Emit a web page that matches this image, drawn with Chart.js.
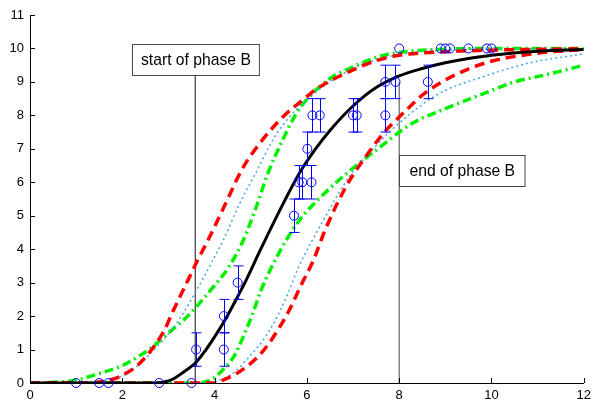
<!DOCTYPE html>
<html>
<head>
<meta charset="utf-8">
<script src="https://cdn.jsdelivr.net/npm/chart.js@4/dist/chart.umd.min.js"></script>
<style>
  body { margin: 0; background: #fff; }
</style>
</head>
<body>
<canvas id="phaseChart" width="596" height="402"></canvas>
<script>
// curves, [x, y]
const fitCurve = [[0,0],[2.6,0],[2.9,0.03],[3.1,0.12],[3.3,0.3],[3.6,0.62],[3.8,0.97],[4.0,1.38],[4.2,1.82],[4.45,2.45],[4.7,3.12],[5.0,4.0],[5.5,5.4],[5.85,6.3],[6.2,7.02],[6.5,7.55],[7.0,8.28],[7.5,8.83],[8.0,9.18],[8.5,9.4],[9.0,9.57],[9.5,9.7],[10.0,9.8],[11.0,9.92],[12.0,9.97]];
const redUpper = [[0,0],[1.2,0],[1.6,0.05],[2.0,0.23],[2.4,0.62],[2.9,1.55],[3.1,2.15],[3.45,3.15],[3.65,3.72],[3.85,4.25],[4.2,5.25],[4.6,6.4],[5.0,7.2],[5.5,7.98],[5.95,8.5],[6.2,8.78],[7.0,9.36],[7.56,9.66],[8.0,9.8],[9.0,9.9],[10.0,9.95],[12.0,9.99]];
const cyanUpper = [[0,0],[1.4,0],[1.8,0.1],[2.2,0.38],[2.74,1.07],[3.17,1.77],[3.6,2.75],[4.03,3.85],[4.17,4.22],[4.54,5.35],[4.9,6.3],[5.33,7.42],[5.76,8.16],[6.2,8.7],[7.0,9.4],[8.0,9.82],[9.0,9.95],[10.0,9.98],[12.0,10]];
const greenUpper = [[0,0],[0.5,0.02],[1.0,0.08],[1.37,0.23],[2.0,0.52],[2.45,0.88],[2.6,1.02],[3.02,1.52],[3.38,1.95],[3.67,2.38],[3.96,2.85],[4.3,3.45],[4.6,4.2],[4.9,5.25],[5.15,6.25],[5.47,7.25],[5.76,8.03],[6.0,8.48],[6.5,9.1],[7.0,9.45],[7.56,9.76],[8.0,9.88],[8.7,9.96],[10.0,10],[12.0,10]];
const greenLower = [[0,0],[3.6,0],[3.96,0.13],[4.17,0.38],[4.43,0.82],[4.61,1.35],[4.82,2.05],[5.0,2.75],[5.4,3.9],[5.83,4.85],[6.33,5.6],[6.84,6.24],[7.49,6.95],[8.28,7.76],[9.0,8.2],[9.7,8.58],[10.5,9.0],[11.2,9.22],[12.0,9.5]];
const cyanLower = [[0,0],[3.9,0],[4.1,0.08],[4.39,0.28],[4.75,0.78],[5.11,1.4],[5.4,2.1],[5.62,2.78],[5.8,3.4],[6.33,4.8],[6.91,6.15],[7.41,6.96],[7.9,7.65],[8.64,8.46],[9.0,8.75],[9.72,9.11],[10.8,9.56],[12.0,9.84]];
const redLower = [[0,0],[4.0,0],[4.17,0.08],[4.53,0.33],[4.9,0.73],[5.15,1.13],[5.4,1.65],[5.62,2.18],[5.9,3.0],[6.12,3.6],[6.41,4.62],[6.84,5.85],[7.27,6.76],[7.7,7.53],[8.0,7.95],[8.6,8.71],[9.72,9.5],[10.9,9.84],[12.0,9.97]];

// observations with error half-widths
const obsX = [1.0,1.5,1.7,2.8,3.5,3.6,4.2,4.2,4.5,5.72,5.82,5.9,6.1,6.01,6.12,6.28,7.0,7.08,7.7,7.7,7.92,8.62,8.0,8.9,9.0,9.1,9.5,9.9,10.0];
const obsY = [0,0,0,0,0,1,1,2,3,5,6,6,6,7,8,8,8,8,8,9,9,9,10,10,10,10,10,10,10];
const obsErr = [0,0,0,0,0,0.5,0.5,0.5,0.5,0.5,0.5,0.5,0.5,0.5,0.5,0.5,0.5,0.5,0.5,0.5,0.5,0.5,0,0,0,0,0,0,0];

// phase B markers
const phaseStart = 3.58;
const phaseEnd = 8.0;
const phaseLabels = ['start of phase B', 'end of phase B'];

const xTicks = [0, 2, 4, 6, 8, 10, 12];
const yTicks = [0, 1, 2, 3, 4, 5, 6, 7, 8, 9, 10, 11];

const toXY = arr => arr.map(p => ({x: p[0], y: p[1]}));
const FONT = "'Liberation Sans', Arial, Helvetica, sans-serif";

function curve(data, color, width, dash) {
  return {
    data: toXY(data),
    showLine: true,
    borderColor: color,
    borderWidth: width,
    borderDash: dash,
    pointRadius: 0,
    cubicInterpolationMode: 'monotone',
    tension: 0.4
  };
}

const RED = '#ff0000', GREEN = '#00f000', CYAN = 'rgb(70,165,225)';

// error bars, inward ticks and the two label boxes
const extras = {
  id: 'extras',
  afterDatasetsDraw(chart) {
    const {ctx, scales: {x, y}} = chart;
    ctx.save();
    ctx.strokeStyle = '#0000ff';
    ctx.lineWidth = 1;
    obsX.forEach((vx, i) => {
      if (!obsErr[i]) return;
      const px = Math.round(x.getPixelForValue(vx)) + 0.5;
      const top = y.getPixelForValue(obsY[i] + obsErr[i]);
      const bot = y.getPixelForValue(obsY[i] - obsErr[i]);
      ctx.beginPath();
      ctx.moveTo(px, top); ctx.lineTo(px, bot);
      ctx.moveTo(px - 5, top); ctx.lineTo(px + 5, top);
      ctx.moveTo(px - 5, bot); ctx.lineTo(px + 5, bot);
      ctx.stroke();
    });

    // label boxes
    ctx.font = '15.7px ' + FONT;
    ctx.textBaseline = 'middle';
    ctx.lineWidth = 1;
    const drawBox = (text, left, midY, pad) => {
      const w = ctx.measureText(text).width + 2 * pad;
      const h = 31;
      const bx = Math.round(left) + 0.5, by = Math.round(midY - h / 2) + 0.5;
      ctx.fillStyle = '#fff';
      ctx.fillRect(bx, by, w, h);
      ctx.strokeStyle = '#444';
      ctx.strokeRect(bx, by, w, h);
      ctx.fillStyle = '#000';
      ctx.textAlign = 'left';
      ctx.fillText(text, bx + pad, by + h / 2 + 1);
    };
    const sw = ctx.measureText(phaseLabels[0]).width + 17;
    const sMid = y.getPixelForValue(9.2) - 15.5;
    drawBox(phaseLabels[0], x.getPixelForValue(phaseStart) - sw / 2, sMid, 8.5);
    drawBox(phaseLabels[1], x.getPixelForValue(phaseEnd), y.getPixelForValue(6.35), 10);
    ctx.restore();
  },
  afterDraw(chart) {
    const {ctx, chartArea, scales: {x, y}} = chart;
    ctx.save();
    ctx.strokeStyle = '#000';
    ctx.lineWidth = 1;
    ctx.beginPath();
    x.ticks.forEach(t => {
      const px = Math.round(x.getPixelForValue(t.value)) + 0.5;
      ctx.moveTo(px, chartArea.bottom); ctx.lineTo(px, chartArea.bottom - 5);
    });
    y.ticks.forEach(t => {
      const py = Math.round(y.getPixelForValue(t.value)) + 0.5;
      ctx.moveTo(chartArea.left, py); ctx.lineTo(chartArea.left + 5, py);
    });
    ctx.stroke();
    ctx.restore();
  }
};

new Chart(document.getElementById('phaseChart').getContext('2d'), {
  type: 'scatter',
  data: {
    datasets: [
      {
        data: obsX.map((vx, i) => ({x: vx, y: obsY[i]})),
        pointStyle: 'circle',
        pointRadius: 4.5,
        borderColor: '#0000ff',
        backgroundColor: 'rgba(0,0,0,0)',
        borderWidth: 1,
        showLine: false,
        clip: false
      },
      curve(fitCurve, '#000', 3, []),
      curve(redUpper, RED, 3.5, [10, 6]),
      curve(redLower, RED, 3.5, [10, 6]),
      curve(cyanUpper, CYAN, 1.5, [2, 3]),
      curve(cyanLower, CYAN, 1.5, [2, 3]),
      curve(greenUpper, GREEN, 3.5, [9, 4, 2, 4]),
      curve(greenLower, GREEN, 3.5, [9, 4, 2, 4]),
      {
        data: [{x: phaseStart, y: 0}, {x: phaseStart, y: 9.2}],
        showLine: true, borderColor: '#111', borderWidth: 1, pointRadius: 0
      },
      {
        data: [{x: phaseEnd, y: 0}, {x: phaseEnd, y: 9.0}],
        showLine: true, borderColor: '#444', borderWidth: 1, pointRadius: 0
      }
    ]
  },
  options: {
    responsive: false,
    animation: false,
    layout: { padding: { top: 15, right: 10, left: 0, bottom: 0 } },
    plugins: { legend: { display: false }, tooltip: { enabled: false } },
    scales: {
      x: {
        type: 'linear', min: 0, max: 12,
        afterBuildTicks: s => { s.ticks = xTicks.map(v => ({value: v})); },
        ticks: { color: '#000', padding: 5, font: { family: FONT, size: 13 } },
        grid: { display: false, drawTicks: false },
        border: { display: true, color: '#000', width: 1 },
        afterFit: s => { s.height = 19; }
      },
      y: {
        type: 'linear', min: 0, max: 11,
        afterBuildTicks: s => { s.ticks = yTicks.map(v => ({value: v})); },
        ticks: { color: '#000', padding: 6, font: { family: FONT, size: 13 } },
        grid: { display: false, drawTicks: false },
        border: { display: true, color: '#000', width: 1 },
        afterFit: s => { s.width = 30; }
      }
    }
  },
  plugins: [extras]
});
</script>
</body>
</html>
